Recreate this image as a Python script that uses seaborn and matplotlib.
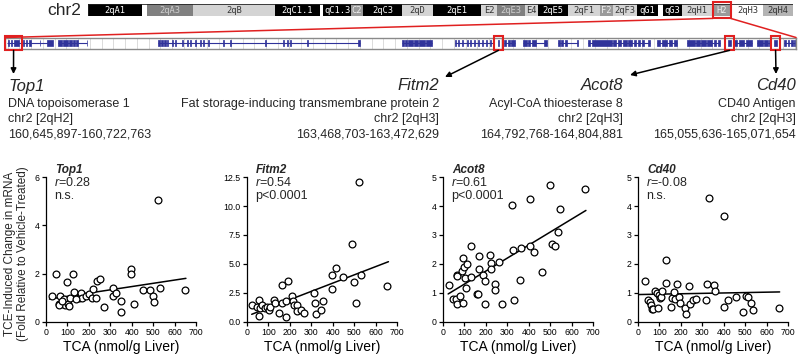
import numpy as np
import pandas as pd
import matplotlib
matplotlib.use("Agg")
import matplotlib.pyplot as plt
import seaborn as sns
from matplotlib.patches import Rectangle, ConnectionPatch
from matplotlib.ticker import MultipleLocator

sns.set_theme(style="ticks")
plt.rcParams['font.family'] = ['Liberation Sans', 'DejaVu Sans']
plt.rcParams['mathtext.fontset'] = 'custom'
plt.rcParams['mathtext.rm'] = 'Liberation Sans'
plt.rcParams['mathtext.it'] = 'Liberation Sans:italic'

# ---------------- chromosome 2 ideogram (Mb) ----------------
chr_length = 181.2
band_names = ['2qA1', '', '2qA3', '2qB', '2qC1.1', '', 'qC1.3', 'C2', '2qC3', '2qD', '2qE1', 'E2',
              '2qE3', 'E4', '2qE5', '2qF1', 'F2', '2qF3', 'qG1', '', 'qG3', '2qH1', 'H2', '2qH3', '2qH4']
band_start = [0, 13.9, 15.2, 27.0, 48.1, 59.6, 60.4, 67.6, 70.7, 80.7, 88.7, 101.0,
              105.1, 112.3, 115.7, 123.4, 131.6, 134.9, 141.1, 146.5, 147.8, 152.7, 160.4, 165.5, 173.5]
band_stain = ['black', 'white', 'gray', 'light', 'black', 'white', 'black', 'mid', 'black', 'light', 'black', 'light',
              'gray', 'light', 'black', 'light', 'mid', 'light', 'black', 'white', 'black', 'light', 'mid', 'white', 'light2']
band_end = band_start[1:] + [chr_length]

stain_fill = {'black': '#000000', 'gray': '#808080', 'mid': '#9a9a9a', 'light': '#d4d4d4',
              'light2': '#b4b4b4', 'white': '#ffffff'}
stain_text = {'black': '#ffffff', 'gray': '#cfcfcf', 'mid': '#eeeeee', 'light': '#333333',
              'light2': '#333333', 'white': '#333333'}

# ---------------- zoomed gene track (Mb) ----------------
region = (160.635, 165.181)
exons = [(160.652, 160.658), (160.670, 160.678), (160.687, 160.718),
         (160.741, 160.747), (160.756, 160.762), (160.773, 160.782), (160.836, 160.838),
         (160.877, 160.911), (160.940, 160.963), (160.969, 160.997), (161.003, 161.020),
         (161.026, 161.038), (161.043, 161.055), (161.106, 161.108),
         (161.515, 161.526), (161.532, 161.544), (161.549, 161.561), (161.567, 161.572),
         (161.595, 161.598), (161.613, 161.616), (161.653, 161.656), (161.682, 161.685),
         (161.699, 161.702), (161.728, 161.731), (161.756, 161.759), (161.774, 161.777),
         (161.802, 161.805), (161.889, 161.892), (161.929, 161.932), (162.130, 162.133),
         (162.234, 162.237), (162.257, 162.260), (162.274, 162.277), (162.372, 162.375),
         (162.665, 162.676),
         (162.918, 162.929), (162.935, 162.947), (162.952, 162.981), (162.987, 163.010),
         (163.015, 163.050), (163.056, 163.090),
         (163.222, 163.225), (163.240, 163.243), (163.263, 163.266), (163.292, 163.295),
         (163.309, 163.312), (163.332, 163.335), (163.355, 163.358), (163.378, 163.381),
         (163.401, 163.404), (163.424, 163.427), (163.441, 163.444),
         (163.4687, 163.4726),
         (163.504, 163.516), (163.527, 163.539), (163.544, 163.567),
         (163.613, 163.636), (163.642, 163.654), (163.665, 163.688), (163.734, 163.752),
         (163.815, 163.826), (163.832, 163.844), (163.855, 163.867), (163.924, 163.927),
         (163.987, 163.999), (164.010, 164.125), (164.131, 164.148), (164.160, 164.177),
         (164.189, 164.212), (164.217, 164.240), (164.252, 164.263), (164.275, 164.286),
         (164.298, 164.309), (164.332, 164.344),
         (164.384, 164.401), (164.413, 164.441), (164.453, 164.470), (164.482, 164.499),
         (164.557, 164.602), (164.608, 164.631), (164.637, 164.666), (164.672, 164.700),
         (164.712, 164.723), (164.735, 164.746),
         (164.793, 164.805),
         (164.821, 164.843), (164.855, 164.884), (164.896, 164.930),
         (164.959, 164.994), (164.999, 165.022), (165.028, 165.039),
         (165.056, 165.072),
         (165.114, 165.126), (165.137, 165.143), (165.154, 165.166), (165.172, 165.178)]
introns = [(160.648, 160.882), (160.940, 161.108), (161.515, 162.676), (162.918, 163.090),
           (163.222, 163.444), (163.504, 163.567), (163.613, 163.752), (163.815, 163.927),
           (163.987, 164.344), (164.384, 164.499), (164.557, 164.746), (164.821, 164.930),
           (164.959, 165.039), (165.114, 165.178)]

# ---------------- genes of interest ----------------
gene_names = ['Top1', 'Fitm2', 'Acot8', 'Cd40']
gene_desc = ['DNA topoisomerase 1', 'Fat storage-inducing transmembrane protein 2',
             'Acyl-CoA thioesterase 8', 'CD40 Antigen']
gene_band = ['2qH2', '2qH3', '2qH3', '2qH3']
gene_start = [160645897, 163468703, 164792768, 165055636]
gene_end = [160722763, 163472629, 164804881, 165071654]

# ---------------- scatter data: TCA (nmol/g liver) vs fold change ----------------
top1_x = [28, 47, 59, 67, 78, 86, 90, 96, 101, 106, 112, 128, 129, 156, 163, 168, 187, 202, 218, 215,
          233, 236, 252, 269, 314, 314, 327, 350, 350, 397, 397, 412, 451, 487, 498, 505, 532, 521, 650,
          62, 74, 140]
top1_y = [1.05, 2.0, 0.73, 1.07, 0.73, 0.94, 0.71, 1.65, 0.73, 0.67, 1.0, 1.96, 1.25, 1.0, 1.21, 1.0,
          1.07, 1.14, 1.35, 1.0, 1.0, 1.69, 1.76, 0.6, 1.39, 1.07, 1.21, 0.87, 0.42, 2.2, 1.99, 0.73,
          1.31, 1.32, 1.07, 0.83, 1.41, 5.05, 1.31, 0.7, 0.85, 0.95]
top1_fit_x = [16, 653]
top1_fit_y = [0.94, 1.8]

fitm2_x = [22, 46, 54, 54, 61, 72, 82, 93, 101, 109, 124, 132, 151, 161, 164, 180, 183, 192, 211, 214,
           219, 235, 235, 250, 266, 313, 318, 324, 345, 353, 397, 397, 416, 450, 490, 499, 510, 523, 534, 655]
fitm2_y = [1.46, 1.31, 1.9, 0.52, 1.17, 1.46, 1.17, 1.31, 1.02, 1.31, 1.9, 1.6, 0.73, 3.15, 1.6, 1.75,
           0.44, 3.56, 2.19, 1.75, 1.46, 1.46, 0.93, 1.02, 0.73, 2.48, 1.6, 0.67, 1.02, 1.81, 2.83, 4.02,
           4.66, 3.85, 6.7, 3.41, 1.66, 12.1, 4.08, 3.06]
fitm2_fit_x = [22, 660]
fitm2_fit_y = [0.64, 5.19]

acot8_x = [29, 48, 60, 63, 67, 67, 79, 87, 92, 98, 103, 106, 111, 95, 132, 132, 159, 162, 170, 167, 187, 194,
           198, 219, 222, 225, 241, 243, 259, 275, 322, 325, 333, 357, 362, 405, 408, 425, 463, 497, 508, 521,
           535, 544, 663]
acot8_y = [1.26, 0.78, 0.78, 1.6, 1.58, 0.61, 0.88, 1.76, 2.22, 1.91, 1.52, 1.17, 2.0, 0.64, 1.56, 2.61, 0.96,
           0.96, 2.28, 1.81, 1.6, 0.61, 1.4, 2.31, 2.03, 1.81, 1.31, 1.11, 2.07, 0.62, 4.04, 2.48, 0.76, 1.44,
           2.54, 4.24, 2.61, 2.4, 1.73, 4.74, 2.69, 2.63, 3.1, 3.9, 4.6]
acot8_fit_x = [24, 667]
acot8_fit_y = [0.96, 3.85]

cd40_x = [31, 47, 58, 62, 65, 70, 78, 89, 93, 98, 101, 106, 112, 129, 132, 156, 160, 166, 171, 182, 191, 197,
          218, 222, 238, 241, 257, 272, 319, 322, 330, 353, 358, 400, 400, 420, 456, 490, 502, 513, 529, 537, 658]
cd40_y = [1.4, 0.74, 0.68, 0.59, 0.43, 0.43, 1.05, 1.0, 0.49, 0.94, 0.82, 0.84, 1.05, 2.14, 1.35, 0.5, 0.82,
          1.02, 0.8, 1.29, 0.84, 0.64, 0.47, 0.27, 1.23, 0.61, 0.74, 0.8, 0.74, 1.29, 4.27, 1.26, 1.05, 3.67,
          0.5, 0.74, 0.84, 0.35, 0.88, 0.84, 0.64, 0.39, 0.47]
cd40_fit_x = [5, 661]
cd40_fit_y = [0.94, 1.03]

panel_r = ['0.28', '0.54', '0.61', '-0.08']
panel_p = ['n.s.', 'p<0.0001', 'p<0.0001', 'n.s.']
panel_ymax = [6, 12.5, 5, 5]
panel_yticks = [[0, 2, 4, 6], [0, 2.5, 5, 7.5, 10, 12.5], [0, 1, 2, 3, 4, 5], [0, 1, 2, 3, 4, 5]]
panel_yticklabels = [['0', '2', '4', '6'], ['0.0', '2.5', '5.0', '7.5', '10.0', '12.5'],
                     ['0', '1', '2', '3', '4', '5'], ['0', '1', '2', '3', '4', '5']]
x_ticks = [0, 100, 200, 300, 400, 500, 600, 700]

# ---------------- figure ----------------
W, H = 800, 357
fig = plt.figure(figsize=(W / 100, H / 100), dpi=100)
fig.patch.set_facecolor('white')

def px_axes(x0, y0, x1, y1):
    # y measured from the top, in pixels
    return fig.add_axes([x0 / W, 1 - y1 / H, (x1 - x0) / W, (y1 - y0) / H])

red = '#e02020'
navy = '#30339a'

# ideogram
ideo = px_axes(88, 4, 793, 16)
for name, s, e, st in zip(band_names, band_start, band_end, band_stain):
    ideo.bar((s + e) / 2, 1, width=e - s, bottom=0, color=stain_fill[st], edgecolor='none', linewidth=0)
    if name:
        ideo.text((s + e) / 2, 0.45, name, ha='center', va='center', fontsize=6.3,
                  family='DejaVu Sans Mono', color=stain_text[st])
ideo.add_patch(Rectangle((0, 0), chr_length, 1, fill=False, edgecolor='#222222', lw=0.6))
ideo.set_xlim(0, chr_length)
ideo.set_ylim(0, 1)
ideo.axis('off')
ideo.add_patch(Rectangle((region[0], -0.2), region[1] - region[0], 1.4, fill=False,
                         edgecolor=red, lw=1.5, clip_on=False, zorder=5))

# gene track
track = px_axes(5, 37.5, 796, 49)
track.set_xlim(*region)
track.set_ylim(0, 1)
track.xaxis.set_major_locator(MultipleLocator(0.0675))
track.grid(axis='x', color='#d6d6d6', lw=0.6)
track.tick_params(length=0, labelbottom=False, labelleft=False)
track.set_yticks([])
for sp in track.spines.values():
    sp.set_color('#8a8a8a')
    sp.set_linewidth(1.0)
track.hlines([0.53] * len(introns), [a for a, b in introns], [b for a, b in introns], color=navy, lw=0.8)
track.broken_barh([(a, b - a) for a, b in exons], (0.25, 0.56), facecolors=navy, edgecolors=navy, linewidth=0.5)

# red connectors from the ideogram to the track
for xa, xb in [(region[0], 0), (region[1], 1)]:
    con = ConnectionPatch(xyA=(xa, -0.2), coordsA=ideo.transData, xyB=(xb, 1), coordsB=track.transAxes,
                          color=red, lw=1.1)
    fig.add_artist(con)

# overlay for labels and arrows (pixel layout)
ov = fig.add_axes([0, 0, 1, 1])
ov.set_xlim(0, W)
ov.set_ylim(H, 0)
ov.axis('off')
ov.patch.set_alpha(0)

ov.text(47, 10.5, 'chr2', fontsize=12.5, ha='left', va='center')

text_x = [8, 439, 623, 796]
text_ha = ['left', 'right', 'right', 'right']
arrow_tips = [(13.5, 74), (445, 77), (630, 75), (776, 74)]
for i, g in enumerate(gene_names):
    s, e = gene_start[i] / 1e6, gene_end[i] / 1e6
    mid = (s + e) / 2
    hw = max((e - s) / 2 + 0.01, 0.024)
    track.add_patch(Rectangle((mid - hw, -0.12), 2 * hw, 1.24, fill=False, edgecolor=red, lw=1.5,
                              clip_on=False, zorder=5))
    ov.annotate('', xy=arrow_tips[i], xycoords='data', xytext=(mid, -0.12), textcoords=track.transData,
                arrowprops=dict(arrowstyle='-|>', color='black', lw=1.1, mutation_scale=8,
                                shrinkA=0, shrinkB=0))
    ov.text(text_x[i], 90.5, g, fontsize=12, style='italic', ha=text_ha[i], va='baseline')
    lines = [gene_desc[i], f'chr2 [{gene_band[i]}]', f'{gene_start[i]:,}-{gene_end[i]:,}']
    for ln, yb in zip(lines, [106.5, 122, 137.5]):
        ov.text(text_x[i], yb, ln, fontsize=9, ha=text_ha[i], va='baseline')

# scatter panels
panel_x = [top1_x, fitm2_x, acot8_x, cd40_x]
panel_y = [top1_y, fitm2_y, acot8_y, cd40_y]
panel_fx = [top1_fit_x, fitm2_fit_x, acot8_fit_x, cd40_fit_x]
panel_fy = [top1_fit_y, fitm2_fit_y, acot8_fit_y, cd40_fit_y]
panel_left = [46, 247, 443, 638]

for i in range(4):
    ax = px_axes(panel_left[i], 177.2, panel_left[i] + 150, 321.7)
    df = pd.DataFrame({'tca': panel_x[i], 'mrna': panel_y[i]})
    sns.scatterplot(data=df, x='tca', y='mrna', ax=ax, s=24, color='white', edgecolor='black',
                    linewidth=0.9, zorder=3, clip_on=False)
    sns.lineplot(x=panel_fx[i], y=panel_fy[i], ax=ax, color='black', lw=1.1, zorder=2)
    ax.set_xlim(0, 700)
    ax.set_ylim(0, panel_ymax[i])
    ax.set_xticks(x_ticks)
    ax.set_xticklabels([str(t) for t in x_ticks])
    ax.set_yticks(panel_yticks[i])
    ax.set_yticklabels(panel_yticklabels[i])
    ax.tick_params(labelsize=6.3, length=3, width=0.9, pad=1.5, colors='black')
    sns.despine(ax=ax)
    for sp in ['left', 'bottom']:
        ax.spines[sp].set_color('black')
        ax.spines[sp].set_linewidth(0.9)
    ax.set_xlabel('TCA (nmol/g Liver)', fontsize=10, labelpad=2, color='black')
    ax.set_ylabel('')
    ax.text(0.06, 1.029, gene_names[i], transform=ax.transAxes, fontsize=8.5, weight='bold',
            style='italic', ha='left', va='baseline')
    ax.text(0.055, 0.939, r'$\mathit{r}$=' + panel_r[i], transform=ax.transAxes, fontsize=9,
            ha='left', va='baseline')
    ax.text(0.055, 0.850, panel_p[i], transform=ax.transAxes, fontsize=9, ha='left', va='baseline')

fig.text(16.5 / W, 1 - 254 / H, 'TCE-Induced Change in mRNA\n(Fold Relative to Vehicle-Treated)',
         rotation=90, ha='center', va='center', fontsize=8.5, linespacing=1.1, multialignment='center')

fig.savefig('out.png', dpi=100)
